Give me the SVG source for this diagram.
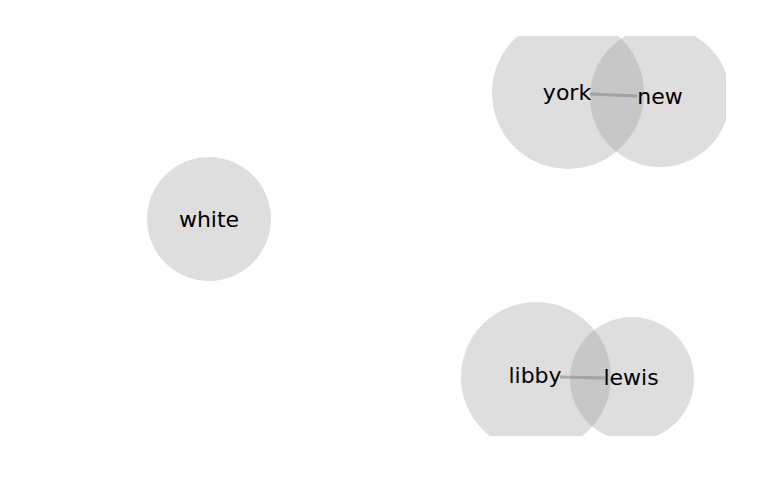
<svg xmlns="http://www.w3.org/2000/svg" width="769" height="500" viewBox="0 0 769 500">
<style>
.node circle{fill:#999;fill-opacity:0.32}
.node text{font-family:"DejaVu Sans",sans-serif;font-size:22px;fill:#000;text-anchor:middle}
.edge{stroke:#888;stroke-opacity:0.6;stroke-width:3;fill:none}
</style>
<defs>
<clipPath id="clip"><rect x="0" y="36" width="726" height="400"/></clipPath>
</defs>
<rect width="769" height="500" fill="#fff"/>
<g clip-path="url(#clip)">
<g id="node-white" class="node"><circle cx="209" cy="219" r="62"/></g>
<g id="node-york" class="node"><circle cx="568" cy="93" r="76"/></g>
<g id="node-new" class="node"><circle cx="660" cy="97" r="70"/></g>
<g id="node-libby" class="node"><circle cx="536" cy="377" r="75"/></g>
<g id="node-lewis" class="node"><circle cx="632" cy="379" r="62"/></g>
<g id="connectors">
<line class="edge" x1="590" y1="94" x2="637" y2="96"/>
<line class="edge" x1="560" y1="377" x2="605" y2="378"/>
</g>
</g>
<g class="node">
<text x="209" y="227">white</text>
<text x="567" y="100">york</text>
<text x="660" y="104">new</text>
<text x="535" y="383">libby</text>
<text x="631" y="385">lewis</text>
</g>
</svg>
